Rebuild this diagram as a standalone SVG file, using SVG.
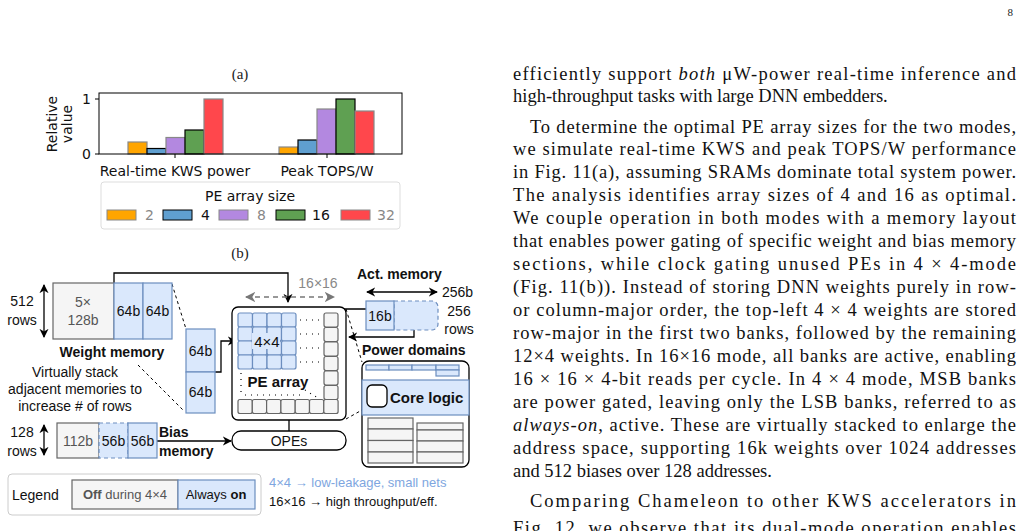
<svg xmlns="http://www.w3.org/2000/svg" width="1022" height="531" viewBox="0 0 1022 531">
<defs>
<marker id="ah" viewBox="0 0 10 10" refX="9" refY="5" markerWidth="7" markerHeight="7" orient="auto-start-reverse"><path d="M0,0 L10,5 L0,10 L3,5 z" fill="#000"/></marker>
<marker id="ahg" viewBox="0 0 10 10" refX="9" refY="5" markerWidth="7" markerHeight="7" orient="auto-start-reverse"><path d="M0,0 L10,5 L0,10 L3,5 z" fill="#777"/></marker>
<style>
.ser{font-family:"Liberation Serif",serif;font-size:18.5px;fill:#111}
.cap{font-family:"Liberation Serif",serif;font-size:15px;fill:#222}
.mp{font-family:"DejaVu Sans",sans-serif;font-size:14px;fill:#111}
.s{font-family:"Liberation Sans",Arial,sans-serif;font-size:14px;fill:#111}
.b{font-weight:bold}
.g{fill:#555}
.lg{fill:#888}
.bt{fill:#7ea6e0}
.f13{font-size:13px}
.f15{font-size:15px}
.blue{fill:#dae8fc;stroke:#6c8ebf;stroke-width:1.2}
.grey{fill:#f5f5f5;stroke:#666;stroke-width:1.2}
.ln{fill:none;stroke:#000;stroke-width:1.3}
.dl{fill:none;stroke:#000;stroke-width:1;stroke-dasharray:3,3}
.dot{fill:none;stroke:#000;stroke-width:1.2;stroke-dasharray:1,5}
</style>
</defs>
<rect width="1022" height="531" fill="#fff"/>
<text x="1013" y="16" class="cap" style="font-size:11px" text-anchor="end">8</text>

<!-- (a) chart -->
<g id="chart">
<text x="240" y="79" class="cap" text-anchor="middle">(a)</text>
<g stroke-width="1.2">
<rect x="128" y="142" width="19" height="12" fill="#ffa500" stroke="#888"/>
<rect x="147" y="148.5" width="19" height="5.5" fill="#5f9fd0" stroke="#000"/>
<rect x="166" y="137.5" width="19" height="16.5" fill="#b388e0" stroke="#888"/>
<rect x="185" y="130" width="19" height="24" fill="#5fa052" stroke="#000"/>
<rect x="204" y="99" width="19" height="55" fill="#ff474c" stroke="#888"/>
<rect x="279" y="147" width="19" height="7" fill="#ffa500" stroke="#888"/>
<rect x="298" y="140" width="19" height="14" fill="#5f9fd0" stroke="#000"/>
<rect x="317" y="109" width="19" height="45" fill="#b388e0" stroke="#888"/>
<rect x="336" y="99" width="19" height="55" fill="#5fa052" stroke="#000"/>
<rect x="355" y="111" width="19" height="43" fill="#ff474c" stroke="#888"/>
</g>
<rect x="99" y="93" width="303" height="61" fill="none" stroke="#000" stroke-width="1"/>
<line x1="95" y1="99" x2="99" y2="99" stroke="#000"/><line x1="95" y1="154" x2="99" y2="154" stroke="#000"/>
<line x1="175" y1="154" x2="175" y2="158" stroke="#000"/><line x1="327" y1="154" x2="327" y2="158" stroke="#000"/>
<text x="91" y="104" class="mp" text-anchor="end">1</text>
<text x="91" y="159" class="mp" text-anchor="end">0</text>
<text transform="translate(57,124) rotate(-90)" class="mp" text-anchor="middle">Relative</text>
<text transform="translate(72,124) rotate(-90)" class="mp" text-anchor="middle">value</text>
<text x="175" y="176" class="mp" text-anchor="middle">Real-time KWS power</text>
<text x="327" y="176" class="mp" text-anchor="middle">Peak TOPS/W</text>
<rect x="101" y="182" width="299" height="47" rx="3" fill="#fff" stroke="#ddd"/>
<text x="250" y="201" class="mp" text-anchor="middle">PE array size</text>
<rect x="107" y="210" width="29" height="10" fill="#ffa500" stroke="#888"/><text x="145" y="220" class="mp lg">2</text>
<rect x="163" y="210" width="29" height="10" fill="#5f9fd0" stroke="#000"/><text x="201" y="220" class="mp">4</text>
<rect x="219" y="210" width="29" height="10" fill="#b388e0" stroke="#888"/><text x="257" y="220" class="mp lg">8</text>
<rect x="276" y="210" width="29" height="10" fill="#5fa052" stroke="#000"/><text x="312" y="220" class="mp">16</text>
<rect x="341" y="210" width="29" height="10" fill="#ff474c" stroke="#888"/><text x="377" y="220" class="mp lg">32</text>
<text x="240" y="258" class="cap" text-anchor="middle">(b)</text>
</g>

<!-- connectors -->
<g id="connectors">
<path class="ln" d="M114,283 V273 H288 V302" marker-end="url(#ah)"/>
<path class="ln" d="M215,372 H221 V341 H236" marker-end="url(#ah)"/>
<path class="ln" d="M366,309 H318 V341 H298" marker-end="url(#ah)"/>
<path class="ln" d="M414,330 V337 H349" marker-end="url(#ah)"/>
<path class="ln" d="M157,441 H231" marker-end="url(#ah)"/>
<path class="ln" d="M289,420 V431"/>
<path class="ln" d="M44,285 V337" marker-start="url(#ah)" marker-end="url(#ah)"/>
<path class="ln" d="M44,425 V455" marker-start="url(#ah)" marker-end="url(#ah)"/>
<path class="ln" d="M367,292 H437" marker-start="url(#ah)" marker-end="url(#ah)"/>
<path d="M246,297 H334" fill="none" stroke="#777" stroke-width="1.5" stroke-dasharray="5,4" marker-start="url(#ahg)" marker-end="url(#ahg)"/>
<path class="dl" d="M172,284 L186,329"/>
<path class="dl" d="M138,365 L184,411"/>
<path class="dl" d="M346,309 L362,362"/>
<path class="dl" d="M346,419 L362,410"/>
</g>

<!-- weight memory -->
<g id="weight-memory">
<rect x="53" y="283" width="61" height="56" class="grey"/>
<rect x="114" y="283" width="29" height="56" class="blue"/>
<rect x="143" y="283" width="29" height="56" class="blue"/>
<text x="83" y="307" class="s g" text-anchor="middle">5×</text>
<text x="83" y="325" class="s g" text-anchor="middle">128b</text>
<text x="128.5" y="316" class="s" text-anchor="middle">64b</text>
<text x="157.5" y="316" class="s" text-anchor="middle">64b</text>
<text x="22" y="306" class="s" text-anchor="middle">512</text>
<text x="22" y="325" class="s" text-anchor="middle">rows</text>
<text x="112" y="357" class="s b" text-anchor="middle">Weight memory</text>
<text x="75" y="377" class="s" text-anchor="middle">Virtually stack</text>
<text x="75" y="394" class="s" text-anchor="middle">adjacent memories to</text>
<text x="75" y="411" class="s" text-anchor="middle">increase # of rows</text>
</g>
<g id="stacked">
<rect x="186" y="329" width="29" height="43" class="blue"/>
<rect x="186" y="372" width="29" height="41" class="blue"/>
<text x="200.5" y="356" class="s" text-anchor="middle">64b</text>
<text x="200.5" y="397" class="s" text-anchor="middle">64b</text>
</g>

<!-- bias -->
<g id="bias-memory">
<rect x="57" y="423" width="42" height="35" class="grey"/>
<rect x="99" y="423" width="29" height="35" class="blue" stroke-dasharray="4,3"/>
<rect x="128" y="423" width="29" height="35" class="blue"/>
<text x="78" y="446" class="s g" text-anchor="middle">112b</text>
<text x="113.5" y="446" class="s" text-anchor="middle">56b</text>
<text x="142.5" y="446" class="s" text-anchor="middle">56b</text>
<text x="22" y="437" class="s" text-anchor="middle">128</text>
<text x="22" y="456" class="s" text-anchor="middle">rows</text>
<text x="159" y="437" class="s b">Bias</text>
<text x="159" y="456" class="s b">memory</text>
</g>

<!-- PE array -->
<g id="pe-array">
<rect x="232" y="307" width="114" height="113" rx="6" fill="#fff" stroke="#000" stroke-width="1.3"/>
<g class="blue">
<rect x="238" y="313" width="14.5" height="14" rx="2"/><rect x="252.5" y="313" width="14.5" height="14" rx="2"/><rect x="267" y="313" width="14.5" height="14" rx="2"/><rect x="281.5" y="313" width="14.5" height="14" rx="2"/>
<rect x="238" y="327" width="14.5" height="14" rx="2"/><rect x="252.5" y="327" width="14.5" height="14" rx="2"/><rect x="267" y="327" width="14.5" height="14" rx="2"/><rect x="281.5" y="327" width="14.5" height="14" rx="2"/>
<rect x="238" y="341" width="14.5" height="14" rx="2"/><rect x="252.5" y="341" width="14.5" height="14" rx="2"/><rect x="267" y="341" width="14.5" height="14" rx="2"/><rect x="281.5" y="341" width="14.5" height="14" rx="2"/>
<rect x="238" y="355" width="14.5" height="14" rx="2"/><rect x="252.5" y="355" width="14.5" height="14" rx="2"/><rect x="267" y="355" width="14.5" height="14" rx="2"/><rect x="281.5" y="355" width="14.5" height="14" rx="2"/>
</g>
<rect x="252" y="333" width="28" height="16" fill="#dae8fc"/>
<text x="267" y="347" class="s f15" text-anchor="middle">4×4</text>
<g class="grey">
<rect x="324" y="313" width="14" height="14" rx="2"/><rect x="324" y="327.5" width="14" height="14" rx="2"/><rect x="324" y="342" width="14" height="14" rx="2"/><rect x="324" y="356.5" width="14" height="14" rx="2"/><rect x="324" y="371" width="14" height="14" rx="2"/><rect x="324" y="385.5" width="14" height="14" rx="2"/>
<rect x="238" y="399.5" width="14.3" height="14" rx="2"/><rect x="252.3" y="399.5" width="14.3" height="14" rx="2"/><rect x="266.6" y="399.5" width="14.3" height="14" rx="2"/><rect x="280.9" y="399.5" width="14.3" height="14" rx="2"/><rect x="295.2" y="399.5" width="14.3" height="14" rx="2"/><rect x="309.5" y="399.5" width="14.3" height="14" rx="2"/><rect x="323.8" y="399.5" width="14.3" height="14" rx="2"/>
</g>
<path class="dot" d="M300,320 H320 M300,334 H320 M300,348 H320 M300,362 H320 M241,373 V396 M245,395 H300 M305,390 L318,398"/>
<text x="278" y="387" class="s b f15" text-anchor="middle">PE array</text>
<text x="318" y="288" class="s lg" text-anchor="middle">16×16</text>
</g>

<!-- OPEs -->
<g id="opes">
<rect x="232" y="431" width="114" height="19" rx="9" fill="#fff" stroke="#000" stroke-width="1.3"/>
<text x="289" y="446" class="s" text-anchor="middle">OPEs</text>
</g>

<!-- Act memory -->
<g id="act-memory">
<text x="357" y="279" class="s b">Act. memory</text>
<path d="M394,301 H432 a6,6 0 0 1 6,6 V324 a6,6 0 0 1 -6,6 H394 z" class="blue" stroke-dasharray="4,3"/>
<rect x="366" y="301" width="28" height="29" class="blue"/>
<text x="380" y="321" class="s" text-anchor="middle">16b</text>
<text x="442" y="297" class="s">256b</text>
<text x="459" y="316" class="s" text-anchor="middle">256</text>
<text x="459" y="334" class="s" text-anchor="middle">rows</text>
</g>

<!-- Power domains -->
<g id="power-domains">
<text x="362" y="355" class="s b">Power domains</text>
<rect x="362" y="361" width="107" height="106" rx="7" fill="#fff" stroke="#000" stroke-width="1.3"/>
<g class="blue" stroke-width="1">
<rect x="366" y="365" width="23" height="5"/><rect x="389" y="365" width="23" height="5"/><rect x="412" y="365" width="24" height="5"/><rect x="436" y="365" width="23" height="5"/><rect x="436" y="370" width="23" height="6"/>
</g>
<rect x="362" y="380" width="107" height="35" fill="#dae8fc" stroke="#6c8ebf" stroke-width="1.2"/>
<rect x="367" y="385" width="20" height="22" rx="5" fill="#fff" stroke="#000" stroke-width="1.3"/>
<text x="390" y="403" class="s b f15">Core logic</text>
<g class="grey">
<rect x="368" y="418" width="45" height="11"/><rect x="368" y="429" width="45" height="11.5"/><rect x="368" y="440.5" width="45" height="11.5"/><rect x="368" y="452" width="45" height="11"/>
<rect x="417" y="423" width="46" height="7"/><rect x="417" y="430" width="46" height="11"/><rect x="417" y="441" width="46" height="11"/><rect x="417" y="452" width="46" height="11"/>
</g>
</g>

<!-- Legend -->
<g id="legend">
<rect x="8" y="474" width="253" height="41" rx="4" fill="#fff" stroke="#ccc"/>
<text x="12" y="500" class="s">Legend</text>
<rect x="72" y="480" width="106" height="29" class="grey"/>
<rect x="178" y="480" width="77" height="29" class="blue"/>
<text x="125" y="499" class="s f13 g" text-anchor="middle"><tspan font-weight="bold">Off</tspan> during 4×4</text>
<text x="216" y="499" class="s f13" text-anchor="middle">Always <tspan font-weight="bold">on</tspan></text>
<text x="269" y="487" class="s f13 bt">4×4 → low-leakage, small nets</text>
<text x="269" y="506" class="s f13">16×16 → high throughput/eff.</text>
</g>

<!-- body text -->
<g id="body">
<text x="513" y="80" class="ser" textLength="503" lengthAdjust="spacing">efficiently support <tspan font-style="italic">both</tspan> μW-power real-time inference and</text>
<text x="513" y="102" class="ser">high-throughput tasks with large DNN embedders.</text>
<text x="530" y="133" class="ser" textLength="486" lengthAdjust="spacing">To determine the optimal PE array sizes for the two modes,</text>
<text x="513" y="155" class="ser" textLength="503" lengthAdjust="spacing">we simulate real-time KWS and peak TOPS/W performance</text>
<text x="513" y="178" class="ser" textLength="503" lengthAdjust="spacing">in Fig. 11(a), assuming SRAMs dominate total system power.</text>
<text x="513" y="201" class="ser" textLength="503" lengthAdjust="spacing">The analysis identifies array sizes of 4 and 16 as optimal.</text>
<text x="513" y="224" class="ser" textLength="503" lengthAdjust="spacing">We couple operation in both modes with a memory layout</text>
<text x="513" y="247" class="ser" textLength="503" lengthAdjust="spacing">that enables power gating of specific weight and bias memory</text>
<text x="513" y="270" class="ser" textLength="503" lengthAdjust="spacing">sections, while clock gating unused PEs in 4 × 4-mode</text>
<text x="513" y="293" class="ser" textLength="503" lengthAdjust="spacing">(Fig. 11(b)). Instead of storing DNN weights purely in row-</text>
<text x="513" y="316" class="ser" textLength="503" lengthAdjust="spacing">or column-major order, the top-left 4 × 4 weights are stored</text>
<text x="513" y="339" class="ser" textLength="503" lengthAdjust="spacing">row-major in the first two banks, followed by the remaining</text>
<text x="513" y="362" class="ser" textLength="503" lengthAdjust="spacing">12×4 weights. In 16×16 mode, all banks are active, enabling</text>
<text x="513" y="385" class="ser" textLength="503" lengthAdjust="spacing">16 × 16 × 4-bit reads per cycle. In 4 × 4 mode, MSB banks</text>
<text x="513" y="408" class="ser" textLength="503" lengthAdjust="spacing">are power gated, leaving only the LSB banks, referred to as</text>
<text x="513" y="431" class="ser" textLength="503" lengthAdjust="spacing"><tspan font-style="italic">always-on</tspan>, active. These are virtually stacked to enlarge the</text>
<text x="513" y="454" class="ser" textLength="503" lengthAdjust="spacing">address space, supporting 16k weights over 1024 addresses</text>
<text x="513" y="477" class="ser">and 512 biases over 128 addresses.</text>
<text x="530" y="507" class="ser" textLength="486" lengthAdjust="spacing">Comparing Chameleon to other KWS accelerators in</text>
<text x="513" y="534" class="ser" textLength="503" lengthAdjust="spacing">Fig. 12, we observe that its dual-mode operation enables</text>
</g>
</svg>
